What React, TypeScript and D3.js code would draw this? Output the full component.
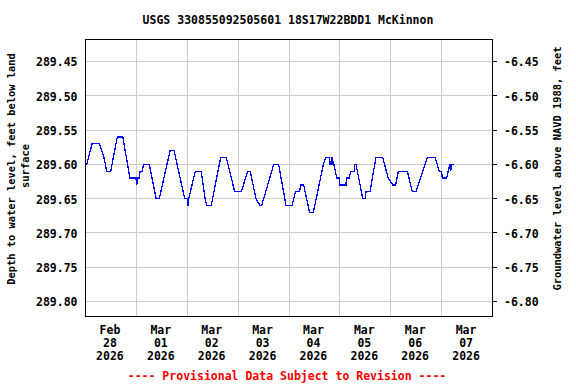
import React from "react";
import * as d3 from "d3";

const TITLE = "USGS 330855092505601 18S17W22BDD1 McKinnon";
const LEFT_TITLE = ["Depth to water level, feet below land", "surface"];
const RIGHT_TITLE = "Groundwater level above NAVD 1988, feet";
const FOOTNOTE = "---- Provisional Data Subject to Revision ----";

const START = new Date(2026, 1, 28, 0, 0);
const END = new Date(2026, 2, 8, 0, 0);
const DAY_LABELS = [
  ["Feb", "28", "2026"],
  ["Mar", "01", "2026"],
  ["Mar", "02", "2026"],
  ["Mar", "03", "2026"],
  ["Mar", "04", "2026"],
  ["Mar", "05", "2026"],
  ["Mar", "06", "2026"],
  ["Mar", "07", "2026"],
];
const DEPTH_TICKS = [289.45, 289.5, 289.55, 289.6, 289.65, 289.7, 289.75, 289.8];
const DATUM_OFFSET = 283.0; // elevation = 283.00 - depth
const DEPTH_DOMAIN = [289.41792, 289.82188];

// [hours since Feb 28 00:00, depth to water (ft)]
const depthSeries: [number, number][] = [
  [0, 289.6], [0.6, 289.6], [3.1, 289.57], [6.5, 289.57], [8.7, 289.59], [9.4, 289.6],
  [9.9, 289.61], [11.9, 289.61], [15.0, 289.56], [17.6, 289.56], [20.4, 289.61], [21.0, 289.62],
  [23.8, 289.62], [24.2, 289.63], [24.4, 289.62], [25.5, 289.62], [25.7, 289.61], [26.8, 289.61],
  [27.3, 289.6], [30.1, 289.6], [33.3, 289.65], [34.8, 289.65], [39.9, 289.58], [41.8, 289.58],
  [46.8, 289.65], [48.2, 289.65], [48.4, 289.66], [48.7, 289.65], [51.8, 289.61], [54.6, 289.61],
  [56.4, 289.65], [57.2, 289.66], [59.3, 289.66], [63.8, 289.59], [66.4, 289.59], [70.4, 289.64],
  [73.5, 289.64], [76.5, 289.61], [77.7, 289.61], [80.4, 289.65], [82.3, 289.66], [83.1, 289.66],
  [88.8, 289.6], [91.1, 289.6], [94.6, 289.66], [97.4, 289.66], [99.0, 289.64], [101.0, 289.64],
  [101.5, 289.63], [102.9, 289.63], [105.7, 289.67], [107.5, 289.67], [112.2, 289.6], [113.4, 289.59],
  [115.0, 289.59], [115.3, 289.6], [115.8, 289.6], [116.0, 289.59], [116.6, 289.59], [116.8, 289.6],
  [117.2, 289.6], [118.5, 289.62], [119.7, 289.62], [120.0, 289.63], [122.9, 289.63], [123.1, 289.62],
  [124.4, 289.62], [125.2, 289.61], [126.8, 289.61], [127.0, 289.6], [127.6, 289.6], [130.8, 289.65],
  [132.0, 289.65], [132.3, 289.64], [134.2, 289.64], [137.0, 289.59], [140.2, 289.59], [142.8, 289.62],
  [144.9, 289.63], [146.3, 289.63], [147.6, 289.61], [151.8, 289.61], [154.2, 289.64], [155.9, 289.64],
  [161.2, 289.59], [164.9, 289.59], [166.9, 289.61], [168.0, 289.61], [168.3, 289.62], [170.4, 289.62],
  [171.1, 289.61], [171.9, 289.6], [172.3, 289.61], [172.7, 289.6], [173.8, 289.6],
];

const FONT = "'DejaVu Sans Mono', monospace";

export default function App() {
  const left = 85.5, right = 492.5, top = 39.5, bottom = 316.5;
  const x = d3.scaleTime().domain([START, END]).range([left, right]);
  const y = d3.scaleLinear().domain(DEPTH_DOMAIN).range([top, bottom]);
  const toDate = (h: number) => new Date(START.getTime() + h * 3600e3);

  const dayTicks = d3.timeDay.range(d3.timeDay.offset(START, 1), END);
  const line = d3
    .line<[number, number]>()
    .x((d) => x(toDate(d[0])))
    .y((d) => y(d[1]));

  const snap = (v: number) => Math.round(v - 0.5) + 0.5;

  return (
    <svg
      width={576}
      height={384}
      style={{ position: "absolute", left: 0, top: 0, background: "#fff" }}
      fontFamily={FONT}
      fontWeight="bold"
    >
      <rect x={0} y={0} width={576} height={384} fill="#fff" />
      <text x={288} y={24} fontSize={11.5} textAnchor="middle" fill="#000">
        {TITLE}
      </text>

      {/* grid */}
      <g stroke="#cccccc" strokeWidth={1} shapeRendering="crispEdges">
        {dayTicks.map((d, i) => (
          <line key={"v" + i} x1={snap(x(d))} x2={snap(x(d))} y1={top} y2={bottom} />
        ))}
        {DEPTH_TICKS.map((t, i) => (
          <line key={"h" + i} x1={left} x2={right} y1={snap(y(t))} y2={snap(y(t))} />
        ))}
      </g>

      {/* data */}
      <path
        d={line(depthSeries) || ""}
        fill="none"
        stroke="#0000ff"
        strokeWidth={1.3}
        strokeLinejoin="miter"
        shapeRendering="crispEdges"
      />

      {/* frame */}
      <rect
        x={left}
        y={top}
        width={right - left}
        height={bottom - top}
        fill="none"
        stroke="#000"
        strokeWidth={1}
        shapeRendering="crispEdges"
      />

      {/* right ticks */}
      <g stroke="#000" shapeRendering="crispEdges">
        {DEPTH_TICKS.map((t, i) => (
          <line key={"rt" + i} x1={right} x2={right + 4} y1={snap(y(t))} y2={snap(y(t))} />
        ))}
      </g>

      {/* tick labels */}
      <g fontSize={11.5} fill="#000">
        {DEPTH_TICKS.map((t, i) => (
          <text key={"l" + i} x={77.5} y={y(t) + 5} textAnchor="end">
            {t.toFixed(2)}
          </text>
        ))}
        {DEPTH_TICKS.map((t, i) => (
          <text key={"r" + i} x={504} y={y(t) + 5} textAnchor="start">
            {(DATUM_OFFSET - t).toFixed(2)}
          </text>
        ))}
      </g>

      {/* x labels */}
      <g fontSize={11.5} fill="#000" textAnchor="middle">
        {DAY_LABELS.map((lines, i) => {
          const cx = x(d3.timeHour.offset(d3.timeDay.offset(START, i), 12)) - 1;
          return (
            <text key={"x" + i} x={cx} y={334}>
              {lines.map((s, j) => (
                <tspan key={j} x={cx} dy={j === 0 ? 0 : 13}>
                  {s}
                </tspan>
              ))}
            </text>
          );
        })}
      </g>

      {/* axis titles */}
      <g fontSize={10.4} fill="#000" textAnchor="middle">
        <text transform="translate(11,169) rotate(-90)" dy="0.35em">
          {LEFT_TITLE[0]}
        </text>
        <text transform="translate(25,166) rotate(-90)" dy="0.35em">
          {LEFT_TITLE[1]}
        </text>
        <text transform="translate(557,168.5) rotate(-90)" dy="0.35em">
          {RIGHT_TITLE}
        </text>
      </g>

      <text x={287} y={379.5} fontSize={11.5} textAnchor="middle" fill="#ff0000">
        {FOOTNOTE}
      </text>
    </svg>
  );
}
